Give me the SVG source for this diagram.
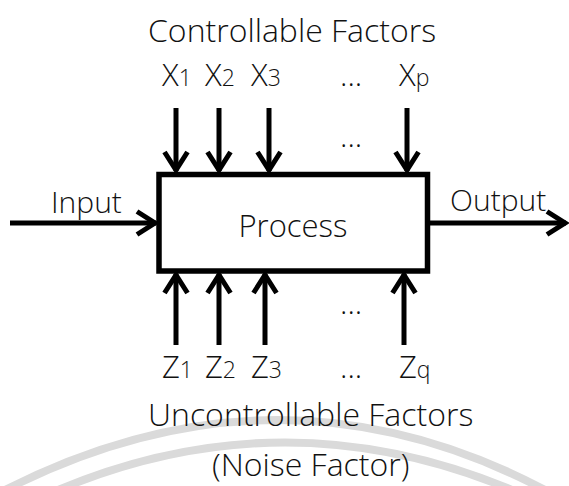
<svg xmlns="http://www.w3.org/2000/svg" width="569" height="486" viewBox="0 0 569 486">
<style>
text{font-family:"Open Sans","Liberation Sans",sans-serif;font-weight:300;fill:#111}
.t{font-size:30px}
.h{font-size:32px}
.v{font-size:31px}
.s{font-size:23px}
.c{stroke:#000;stroke-width:5;fill:none}
.wm{stroke:#dadada;stroke-width:8;fill:none}
</style>
<defs>
<marker id="ah" markerUnits="userSpaceOnUse" viewBox="-24 -14 28 28" markerWidth="28" markerHeight="28" refX="0" refY="0" orient="auto" overflow="visible">
<path d="M-19,-11.5 L-1,0 L-19,11.5" fill="none" stroke="#000" stroke-width="5" stroke-linejoin="miter"/>
</marker>
</defs>
<g id="watermark">
<path class="wm" d="M5,490 Q280,350 545,490"/>
<path class="wm" d="M58,490 Q285,395 512,490"/>
</g>
<g id="title-top"><text class="h" x="148" y="42">Controllable Factors</text></g>
<g id="x-labels">
<text class="v" x="162" y="86">X<tspan class="s">1</tspan></text>
<text class="v" x="205" y="86">X<tspan class="s">2</tspan></text>
<text class="v" x="251" y="86">X<tspan class="s">3</tspan></text>
<text class="v" x="340" y="86">...</text>
<text class="v" x="399" y="86">X<tspan class="s">p</tspan></text>
<text class="v" x="340" y="147">...</text>
</g>
<g id="process"><rect x="159" y="174.5" width="268.5" height="96.5" fill="#fff" stroke="#000" stroke-width="5.5"/>
<text class="t" x="293" y="237" text-anchor="middle" style="font-size:31px">Process</text></g>
<g id="input"><text class="t" x="51" y="213">Input</text></g>
<g id="output"><text class="t" x="450" y="211">Output</text></g>
<g id="connectors">
<path class="c" d="M176,108 V171" marker-end="url(#ah)"/>
<path class="c" d="M219,108 V171" marker-end="url(#ah)"/>
<path class="c" d="M269,108 V171" marker-end="url(#ah)"/>
<path class="c" d="M407,108 V171" marker-end="url(#ah)"/>
<path class="c" d="M176,345 V274" marker-end="url(#ah)"/>
<path class="c" d="M219,345 V274" marker-end="url(#ah)"/>
<path class="c" d="M265,345 V274" marker-end="url(#ah)"/>
<path class="c" d="M404,345 V274" marker-end="url(#ah)"/>
<path class="c" d="M10,223 H156" marker-end="url(#ah)"/>
<path class="c" d="M430,223 H566" marker-end="url(#ah)"/>
</g>
<g id="z-labels">
<text class="v" x="340" y="314">...</text>
<text class="v" x="162" y="378">Z<tspan class="s">1</tspan></text>
<text class="v" x="205" y="378">Z<tspan class="s">2</tspan></text>
<text class="v" x="251" y="378">Z<tspan class="s">3</tspan></text>
<text class="v" x="340" y="378">...</text>
<text class="v" x="399" y="378">Z<tspan class="s">q</tspan></text>
</g>
<g id="title-bottom">
<text class="h" x="148" y="426">Uncontrollable Factors</text>
<text class="h" x="212" y="476">(Noise Factor)</text>
</g>
</svg>
